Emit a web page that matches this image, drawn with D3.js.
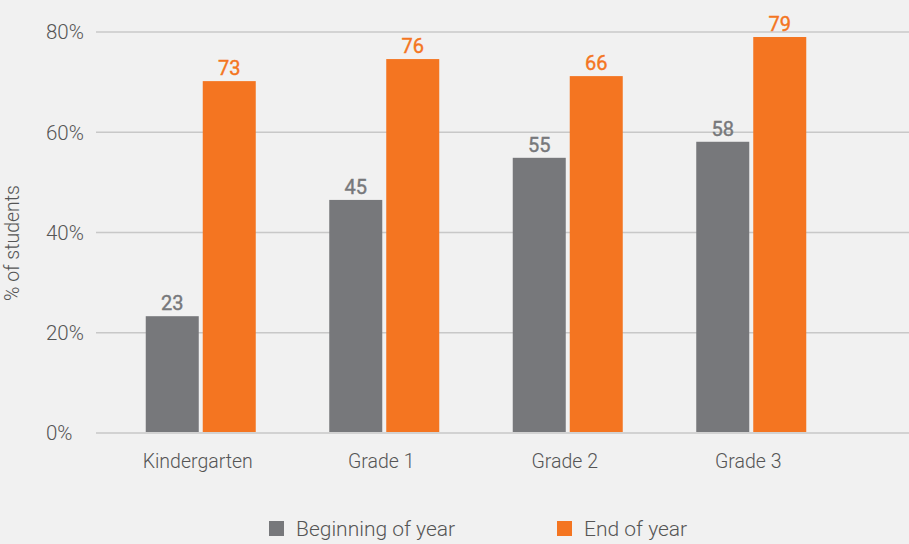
<!DOCTYPE html>
<html>
<head>
<meta charset="utf-8">
<script src="https://cdn.jsdelivr.net/npm/d3@7"></script>
<style>
  body{margin:0;background:#f1f1f1;}
  svg{display:block;font-family:Roboto,"Noto Sans",sans-serif;}
</style>
</head>
<body>
<div class="canvas"></div>
<script>
// data
const categories=['Kindergarten','Grade 1','Grade 2','Grade 3'];
const series=['Beginning of year','End of year'];
const beginValues=[23.3,46.5,54.9,58.1];   // bar heights as drawn
const endValues=[70.2,74.6,71.2,79.0];
const beginLabels=[23,45,55,58];           // numbers printed above bars
const endLabels=[73,76,66,79];
const yTicks=[0,20,40,60,80];

const colors={'Beginning of year':'#77787b','End of year':'#f47521'};

const width=909,height=544;
const svg=d3.select('.canvas')
  .append('svg')
    .attr('width',width)
    .attr('height',height);

svg.append('rect').attr('width',width).attr('height',height).attr('fill','#f1f1f1');

const y=d3.scaleLinear()
  .domain([0,80])
  .range([433,32]);

// outer band for grades, inner band for the two series
const x0=d3.scaleBand()
  .domain(categories)
  .range([109,843]);
const groupW=110;
const x1=d3.scaleBand()
  .domain(series)
  .range([0,groupW])
  .paddingInner(0.07);

// gridlines
svg.append('g')
  .selectAll('line')
  .data(yTicks.filter(d=>d>0))
  .enter().append('line')
    .attr('x1',96).attr('x2',width)
    .attr('y1',d=>y(d)).attr('y2',d=>y(d))
    .attr('stroke','#c8c8c8')
    .attr('stroke-width',1.5);

// y tick labels (left aligned)
svg.append('g')
  .selectAll('text')
  .data(yTicks)
  .enter().append('text')
    .attr('x',46)
    .attr('y',d=>y(d))
    .attr('dy','0.36em')
    .attr('font-size',20.5)
    .attr('font-weight',300)
    .attr('fill','#555')
    .text(d=>d+'%');

// y title
svg.append('text')
  .attr('transform','translate(19,243) rotate(-90)')
  .attr('text-anchor','middle')
  .attr('font-size',19.5)
  .attr('font-weight',300)
  .attr('fill','#555')
  .text('% of students');

const rows=categories.map((c,i)=>({
  cat:c,
  bars:[
    {key:series[0],value:beginValues[i],label:beginLabels[i]},
    {key:series[1],value:endValues[i],label:endLabels[i]}
  ]
}));

const groups=svg.append('g')
  .selectAll('g')
  .data(rows)
  .enter().append('g')
    .attr('transform',d=>`translate(${x0(d.cat)+(x0.bandwidth()-groupW)/2},0)`);

groups.selectAll('rect')
  .data(d=>d.bars)
  .enter().append('rect')
    .attr('x',d=>x1(d.key))
    .attr('width',x1.bandwidth())
    .attr('y',d=>y(d.value))
    .attr('height',d=>y(0)-y(d.value))
    .attr('fill',d=>colors[d.key]);

groups.selectAll('text')
  .data(d=>d.bars)
  .enter().append('text')
    .attr('x',d=>x1(d.key)+x1.bandwidth()/2)
    .attr('y',d=>y(d.value)-6)
    .attr('text-anchor','middle')
    .attr('font-size',20)
    .attr('font-weight',400)
    .attr('stroke',d=>colors[d.key])
    .attr('stroke-width',0.4)
    .attr('fill',d=>colors[d.key])
    .text(d=>d.label);

// baseline
svg.append('line')
  .attr('x1',96).attr('x2',width)
  .attr('y1',y(0)).attr('y2',y(0))
  .attr('stroke','#d2d2d2')
  .attr('stroke-width',2);

// category labels
svg.append('g')
  .selectAll('text')
  .data(categories)
  .enter().append('text')
    .attr('x',d=>x0(d)+x0.bandwidth()/2-3)
    .attr('y',468)
    .attr('text-anchor','middle')
    .attr('font-size',19.5)
    .attr('font-weight',300)
    .attr('fill','#555')
    .text(d=>d);

// legend
const legendX=[269,557];
const legend=svg.append('g')
  .selectAll('g')
  .data(series)
  .enter().append('g')
    .attr('transform',(d,i)=>`translate(${legendX[i]},521)`);
legend.append('rect')
  .attr('width',15).attr('height',15)
  .attr('fill',d=>colors[d]);
legend.append('text')
  .attr('x',27)
  .attr('y',15)
  .attr('font-size',21)
  .attr('font-weight',300)
  .attr('fill','#555')
  .text(d=>d);
</script>
</body>
</html>
